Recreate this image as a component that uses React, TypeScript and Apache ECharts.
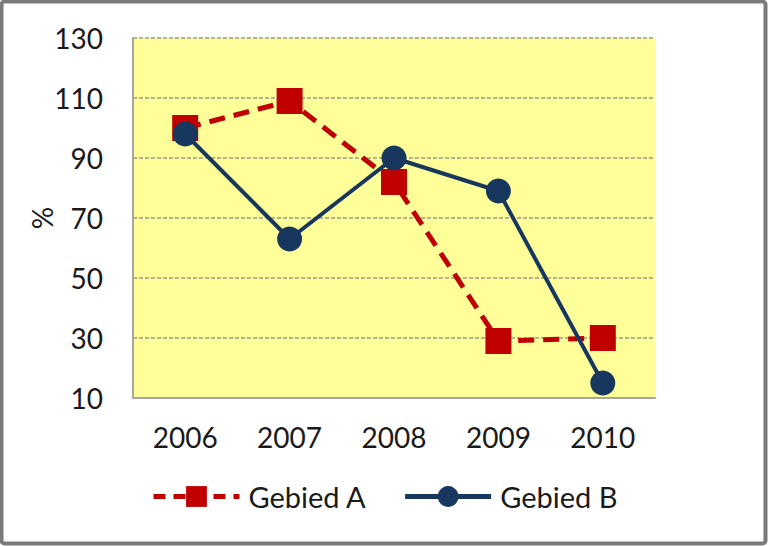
import React, { useEffect, useRef } from "react";
import * as echarts from "echarts";

const categories = ["2006", "2007", "2008", "2009", "2010"];
const gebiedA = [100, 109, 82, 29, 30];
const gebiedB = [98, 63, 90, 79, 15];
const yTicks = { min: 10, max: 130, interval: 20 };

export default function App() {
  const ref = useRef<HTMLDivElement>(null);
  useEffect(() => {
    document.body.style.margin = "0";
    const chart = echarts.init(ref.current!, null, { renderer: "svg" });
    const font = "Lato, 'Open Sans', sans-serif";
    chart.setOption({
      animation: false,
      backgroundColor: "#ffffff",
      graphic: [
        {
          type: "rect",
          shape: { x: 1.5, y: 1.5, width: 764, height: 542, r: 3 },
          style: { fill: "none", stroke: "#7a7a7a", lineWidth: 4 },
          silent: true,
        },
      ],
      grid: {
        left: 133,
        right: 113,
        top: 38,
        bottom: 148,
        show: true,
        backgroundColor: "#FFFF99",
        borderWidth: 0,
      },
      legend: {
        left: 146,
        top: 477,
        itemWidth: 86,
        itemHeight: 26,
        itemGap: 36,
        textStyle: { fontFamily: font, fontSize: 29, color: "#1a1a1a", padding: [0, 0, 0, 4] },
        data: [
          { name: "Gebied A", lineStyle: { width: 5, type: [12, 8] } },
          { name: "Gebied B", lineStyle: { width: 5 } },
        ],
      },
      xAxis: {
        type: "category",
        data: categories,
        boundaryGap: true,
        axisLine: { lineStyle: { color: "#a6a6a6", width: 2 } },
        axisTick: { show: false },
        axisLabel: { fontFamily: font, fontSize: 28, color: "#1a1a1a", margin: 25 },
      },
      yAxis: {
        type: "value",
        min: yTicks.min,
        max: yTicks.max,
        interval: yTicks.interval,
        name: "%",
        nameLocation: "middle",
        nameGap: 77,
        nameMoveOverlap: false,
        nameRotate: 90,
        nameTextStyle: { fontFamily: font, fontSize: 28, color: "#1a1a1a" },
        axisLine: { show: true, lineStyle: { color: "#a6a6a6", width: 2 } },
        axisTick: { show: false },
        axisLabel: { fontFamily: font, fontSize: 28, color: "#1a1a1a", margin: 30 },
        splitLine: { lineStyle: { color: "#9a9a8a", width: 1.5, type: [4, 2] } },
      },
      series: [
        {
          name: "Gebied A",
          type: "line",
          data: gebiedA,
          symbol: "rect",
          symbolSize: 26,
          lineStyle: { color: "#C00000", width: 5, type: [16, 9] },
          itemStyle: { color: "#C00000" },
          z: 2,
        },
        {
          name: "Gebied B",
          type: "line",
          data: gebiedB,
          symbol: "circle",
          symbolSize: 25,
          lineStyle: { color: "#17375E", width: 4 },
          itemStyle: { color: "#17375E" },
          z: 3,
        },
      ],
    });
    return () => chart.dispose();
  }, []);
  return (
    <div
      ref={ref}
      style={{ position: "absolute", left: 0, top: 0, width: 768, height: 546 }}
    />
  );
}
